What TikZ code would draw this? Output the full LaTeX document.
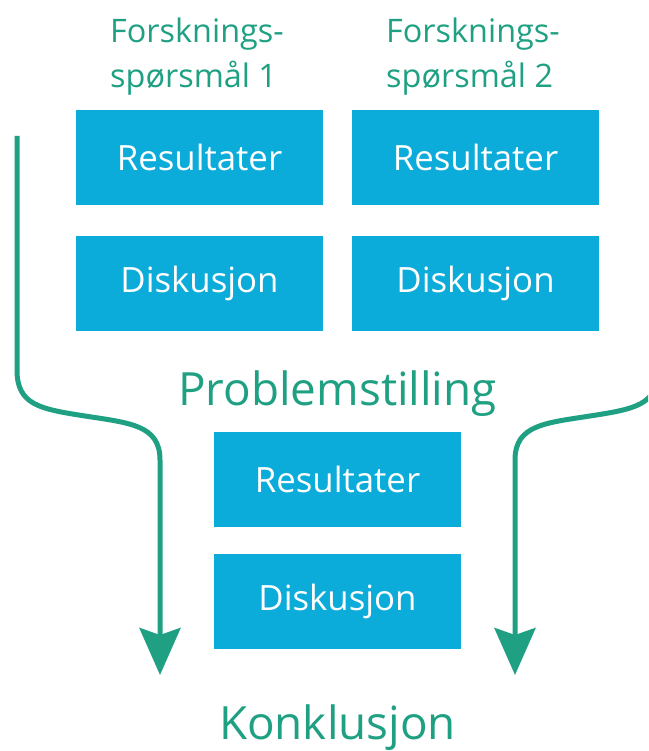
\documentclass[tikz,border=0pt]{standalone}
\usepackage{fontspec}
\setmainfont{Open Sans}
\usetikzlibrary{arrows.meta}
\definecolor{tgreen}{RGB}{31,160,130}
\definecolor{tblue}{RGB}{11,171,218}
\tikzset{
  box/.style={fill=tblue, draw=none, minimum width=247pt, minimum height=95pt, inner sep=0pt,
    text=white, font=\fontsize{34.8}{40}\selectfont},
  head/.style={text=tgreen, inner sep=0pt, anchor=base west, font=\fontsize{32.4}{38}\selectfont},
  big/.style={text=tgreen, inner sep=0pt, anchor=base, font=\fontsize{45.8}{54}\selectfont},
  flow/.style={draw=tgreen, line width=5pt, -{Stealth[length=47pt, width=41pt, inset=7pt]}}
}
\begin{document}
\begin{tikzpicture}[x=1pt, y=-1pt]
\useasboundingbox (0,0) rectangle (648,751);
\clip (0,0) rectangle (648,751);
% headers
\node[head] (h1a) at (110,43) {Forsknings-};
\node[head] (h1b) at (110,88) {spørsmål 1};
\node[head] (h2a) at (386,43) {Forsknings-};
\node[head] (h2b) at (386,88) {spørsmål 2};
% boxes
\node[box] (r1) at (199.5,157.5) {Resultater};
\node[box] (d1) at (199.5,283.5) {Diskusjon};
\node[box] (r2) at (475.5,157.5) {Resultater};
\node[box] (d2) at (475.5,283.5) {Diskusjon};
\node[box] (r3) at (337.5,479.5) {Resultater};
\node[box] (d3) at (337.5,601) {Diskusjon};
% big labels
\node[big] (prob) at (337.5,405) {Problemstilling};
\node[big] (konk) at (337.5,739) {Konklusjon};
% arrows
\coordinate (s1) at (17,136);
\coordinate (e1) at (160,675);
\coordinate (s2) at (658,136);
\coordinate (e2) at (515,675);
\draw[flow] (s1) -- (17,370) .. controls (17,405) and (40,409) .. (85,416)
  .. controls (130,423) and (160,425) .. (160,460) -- (e1);
\draw[flow] (s2) -- (658,370) .. controls (658,405) and (635,409) .. (590,416)
  .. controls (545,423) and (515,425) .. (515,460) -- (e2);
\end{tikzpicture}
\end{document}
